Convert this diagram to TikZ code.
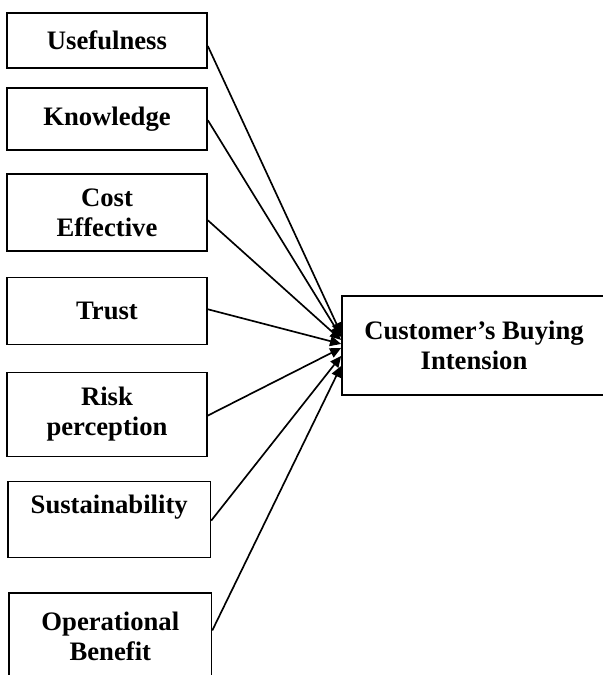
\documentclass[tikz,border=0pt]{standalone}
\usepackage{fontspec}
\setmainfont{Liberation Serif}
\usepackage{tikz}
\usetikzlibrary{arrows.meta, positioning}

\begin{document}
\begin{tikzpicture}[
    x=0.45pt, y=-0.45pt,
    box/.style={rectangle, draw=black, line width=0.75pt, minimum width=90pt, align=center, inner sep=2pt, font=\fontsize{12}{13.6}\selectfont\bfseries},
    arrow/.style={-{Triangle[length=5pt, width=4.5pt]}, line width=0.75pt, black}
]
\useasboundingbox (0,0) rectangle (603,675);

\node[box, minimum height=24.75pt] (use) at (107,40.5) {Usefulness};
\node[box, minimum height=27.9pt, below=8.3pt of use] (know) {Knowledge};
\node[box, minimum height=34.65pt, below=10.1pt of know] (cost) {Cost\\Effective};
\node[box, minimum height=30.15pt, below=11pt of cost] (trust) {Trust};
\node[box, minimum height=37.8pt, below=11.9pt of trust] (risk) {Risk\\perception};
\node[box, minimum height=34.2pt, minimum width=91pt, below=10.55pt of risk, xshift=1pt] (sust) {Sustainability\\ ~};
\node[box, minimum height=39pt, minimum width=91pt, below=15.05pt of sust, xshift=0.5pt] (oper) {Operational\\Benefit};

\node[box, minimum height=44.55pt, minimum width=118.8pt] (cbi) at (474,345.5) {Customer's Buying\\Intension};

\draw[arrow] ([yshift=-2.5pt]use.east) -- ([yshift=5.2pt]cbi.west);
\draw[arrow] ([yshift=-0.5pt]know.east) -- ([yshift=3.8pt]cbi.west);
\draw[arrow] ([yshift=-3.4pt]cost.east) -- ([yshift=2.5pt]cbi.west);
\draw[arrow] ([yshift=0.7pt]trust.east) -- ([yshift=0.7pt]cbi.west);
\draw[arrow] ([yshift=-0.5pt]risk.east) -- ([yshift=-1.1pt]cbi.west);
\draw[arrow] ([yshift=-0.5pt]sust.east) -- ([yshift=-4.7pt]cbi.west);
\draw[arrow] ([yshift=2.5pt]oper.east) -- ([yshift=-9.2pt]cbi.west);

\end{tikzpicture}
\end{document}
